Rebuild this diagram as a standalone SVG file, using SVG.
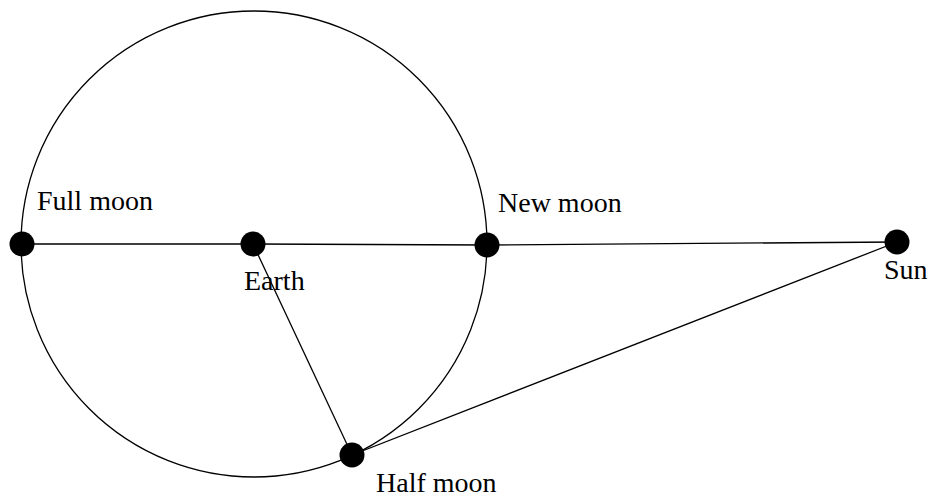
<svg xmlns="http://www.w3.org/2000/svg" width="933" height="501" viewBox="0 0 933 501">
<style>
.l{stroke:#000;stroke-width:1.3;fill:none}
.d{fill:#000}
text{font-family:"Liberation Serif",serif;font-size:28px;fill:#000}
</style>
<rect width="933" height="501" fill="#fff"/>
<g id="orbit"><circle class="l" cx="254" cy="244" r="233"/></g>
<g id="connectors">
<line class="l" x1="22" y1="244" x2="253" y2="244"/>
<line class="l" x1="253" y1="244" x2="487" y2="245"/>
<line class="l" x1="487" y1="245" x2="897" y2="242"/>
<line class="l" x1="253" y1="244" x2="352" y2="455"/>
<line class="l" x1="352" y1="455" x2="897" y2="242"/>
</g>
<g id="fullmoon"><circle class="d" cx="22" cy="244" r="12.5"/><text x="37" y="210">Full moon</text></g>
<g id="earth"><circle class="d" cx="253" cy="244" r="12.5"/><text x="244" y="290">Earth</text></g>
<g id="newmoon"><circle class="d" cx="487" cy="245" r="12.5"/><text x="498" y="212">New moon</text></g>
<g id="sun"><circle class="d" cx="897" cy="242" r="12.5"/><text x="884" y="279">Sun</text></g>
<g id="halfmoon"><circle class="d" cx="352" cy="455" r="12.5"/><text x="376" y="492">Half moon</text></g>
</svg>
